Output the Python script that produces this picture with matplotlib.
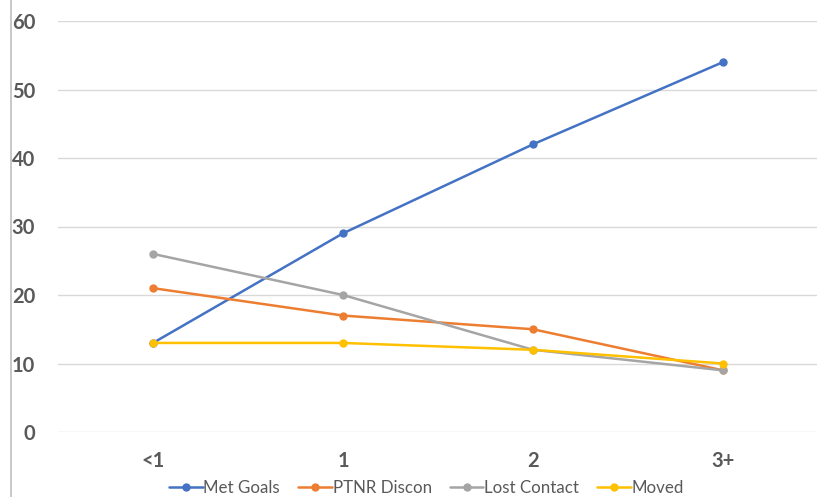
import matplotlib
matplotlib.use("Agg")
import matplotlib.pyplot as plt
from matplotlib.lines import Line2D

categories = ["<1", "1", "2", "3+"]
met_goals = [13, 29, 42, 54]
ptnr_discon = [21, 17, 15, 9]
lost_contact = [26, 20, 12, 9]
moved = [13, 13, 12, 10]

series = [
    ("Met Goals", met_goals, "#4472C4"),
    ("PTNR Discon", ptnr_discon, "#ED7D31"),
    ("Lost Contact", lost_contact, "#A5A5A5"),
    ("Moved", moved, "#FFC000"),
]

plt.rcParams["font.family"] = ["Lato", "DejaVu Sans"]
text_color = "#595959"

fig = plt.figure(figsize=(8.17, 4.97), dpi=100)
ax = fig.add_axes([58 / 817, 1 - 432 / 497, 760 / 817, 411 / 497])

x = list(range(len(categories)))
for name, vals, color in series:
    ax.plot(x, vals, color=color, lw=1.8, marker="o", markersize=5,
            label=name, solid_capstyle="round")

ax.set_xlim(-0.5, 3.5)
ax.set_ylim(0, 60)
ax.set_yticks(range(0, 61, 10))
ax.set_xticks(x)
ax.set_xticklabels(categories)
ax.grid(axis="y", color="#D9D9D9", lw=1)
ax.set_axisbelow(True)
for s in ax.spines.values():
    s.set_visible(False)
ax.tick_params(length=0, labelsize=14.5, labelcolor=text_color)
for lbl in ax.get_xticklabels() + ax.get_yticklabels():
    lbl.set_fontweight("bold")
ax.tick_params(axis="y", pad=16.5)
ax.tick_params(axis="x", pad=14)

# thin border line on the left edge
fig.add_artist(Line2D([10.5 / 817, 10.5 / 817], [0, 1], color="#BFBFBF", lw=1.2,
                      transform=fig.transFigure))

leg = fig.legend(loc="center", bbox_to_anchor=(0.522, 0.018), ncol=4,
                 frameon=False, fontsize=12.2, handlelength=2.0,
                 columnspacing=1.05, handletextpad=0.05, labelcolor=text_color)

fig.savefig("out.png", dpi=100)
